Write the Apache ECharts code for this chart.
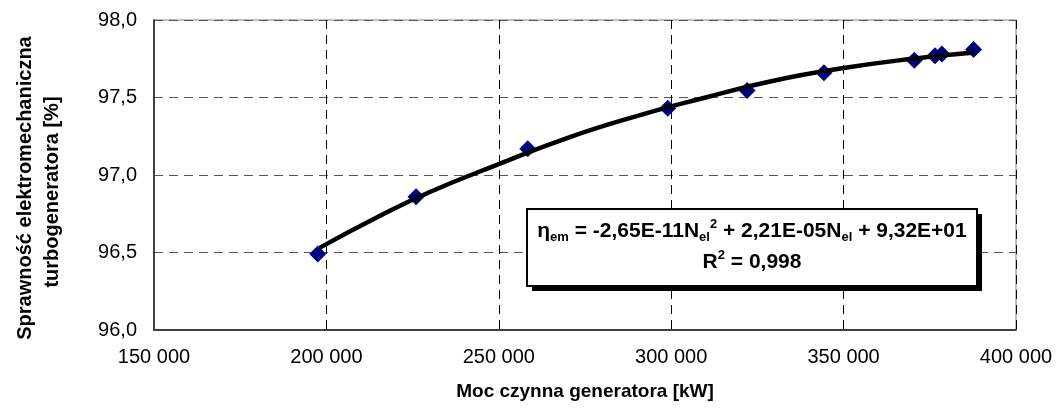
<!DOCTYPE html>
<html>
<head>
<meta charset="utf-8">
<script src="https://cdn.jsdelivr.net/npm/echarts@6/dist/echarts.min.js"></script>
<style>
  html, body { margin: 0; padding: 0; background: #fff; }
  #chart { width: 1057px; height: 412px; }
</style>
</head>
<body>
<div id="chart"></div>
<script>
// measured points: generator active power [kW] vs turbogenerator efficiency [%]
const powerKW = [197500, 226000, 258400, 299000, 322000, 344300, 370500, 376500, 378500, 387700];
const effPct = [96.49, 96.86, 97.17, 97.43, 97.545, 97.66, 97.74, 97.77, 97.78, 97.81];

// trend line
const trendKW = [198000, 215000, 230000, 250000, 270000, 290000, 310000, 330000, 350000, 370000, 388000];
const trendPct = [96.53, 96.73, 96.89, 97.07, 97.24, 97.38, 97.50, 97.61, 97.69, 97.75, 97.79];

const xTicks = [150000, 200000, 250000, 300000, 350000, 400000];
const yTicks = [96.0, 96.5, 97.0, 97.5, 98.0];

const yTitle = ['Sprawność elektromechaniczna', 'turbogeneratora [%]'];

const font = '"Liberation Sans", Arial, sans-serif';

const points = powerKW.map((x, i) => [x, effPct[i]]);
const trend = trendKW.map((x, i) => [x, trendPct[i]]);

const chart = echarts.init(document.getElementById('chart'));

const options = {
  animation: false,
  backgroundColor: '#fff',
  grid: {
    left: 154, top: 20, right: 41, bottom: 82,
    show: true,
    borderColor: '#808080',
    borderWidth: 1
  },
  xAxis: {
    type: 'value',
    min: xTicks[0],
    max: xTicks[xTicks.length - 1],
    interval: 50000,
    name: 'Moc czynna generatora [kW]',
    nameLocation: 'middle',
    nameGap: 52,
    nameTextStyle: { fontFamily: font, fontSize: 19, fontWeight: 'bold', color: '#000' },
    axisLine: { show: true, lineStyle: { color: '#404040', width: 2 } },
    axisTick: { show: false },
    axisLabel: {
      margin: 17,
      fontFamily: font, fontSize: 20, color: '#000',
      formatter: v => String(v).replace(/\B(?=(\d{3})+(?!\d))/g, ' ')
    },
    splitLine: { show: true, lineStyle: { color: '#000', type: [9, 6], width: 1 } }
  },
  yAxis: {
    type: 'value',
    min: yTicks[0],
    max: yTicks[yTicks.length - 1],
    interval: 0.5,
    axisLine: { show: true, lineStyle: { color: '#404040', width: 2 } },
    axisTick: { show: false },
    axisLabel: {
      margin: 17,
      fontFamily: font, fontSize: 20, color: '#000',
      formatter: v => v.toFixed(1).replace('.', ',')
    },
    splitLine: { show: true, lineStyle: { color: '#555', type: [9, 6], width: 1 } }
  },
  series: [
    {
      name: 'pomiary',
      type: 'scatter',
      symbol: 'diamond',
      symbolSize: 17,
      itemStyle: { color: '#000080', opacity: 1 },
      data: points,
      z: 2
    },
    {
      name: 'trend',
      type: 'line',
      smooth: true,
      showSymbol: false,
      lineStyle: { color: '#000', width: 4.5 },
      data: trend,
      z: 3
    }
  ],
  graphic: [
    // y axis title, two rotated lines
    {
      type: 'text',
      x: 25, y: 188,
      rotation: Math.PI / 2,
      style: {
        text: yTitle[0],
        align: 'center', verticalAlign: 'middle',
        fontFamily: font, fontSize: 20, fontWeight: 'bold', fill: '#000'
      }
    },
    {
      type: 'text',
      x: 52, y: 192,
      rotation: Math.PI / 2,
      style: {
        text: yTitle[1],
        align: 'center', verticalAlign: 'middle',
        fontFamily: font, fontSize: 20, fontWeight: 'bold', fill: '#000'
      }
    },
    // trend equation box with shadow
    {
      type: 'rect',
      x: 532, y: 214,
      shape: { width: 450, height: 77 },
      style: { fill: '#000' },
      z: 100
    },
    {
      type: 'rect',
      x: 527, y: 209,
      shape: { width: 450, height: 77 },
      style: { fill: '#fff', stroke: '#000', lineWidth: 2 },
      z: 101
    },
    {
      type: 'text',
      x: 752, y: 216,
      style: {
        text: '{m|η}{sb|em}{m| = -2,65E-11N}{sb|el}{sp|2}{m| + 2,21E-05N}{sb|el}{m| + 9,32E+01}\n{m|R}{sp|2}{m| = 0,998}',
        align: 'center',
        verticalAlign: 'top',
        fontFamily: font,
        fontWeight: 'bold',
        fill: '#000',
        rich: {
          m: { fontSize: 21, fontWeight: 'bold', fontFamily: font, lineHeight: 31 },
          sb: { fontSize: 13, fontWeight: 'bold', fontFamily: font, verticalAlign: 'bottom', lineHeight: 31, padding: [0, 0, 3, 0] },
          sp: { fontSize: 13, fontWeight: 'bold', fontFamily: font, verticalAlign: 'top', lineHeight: 31, padding: [2, 0, 0, 0] }
        }
      },
      z: 102
    }
  ]
};

chart.setOption(options);
</script>
</body>
</html>
